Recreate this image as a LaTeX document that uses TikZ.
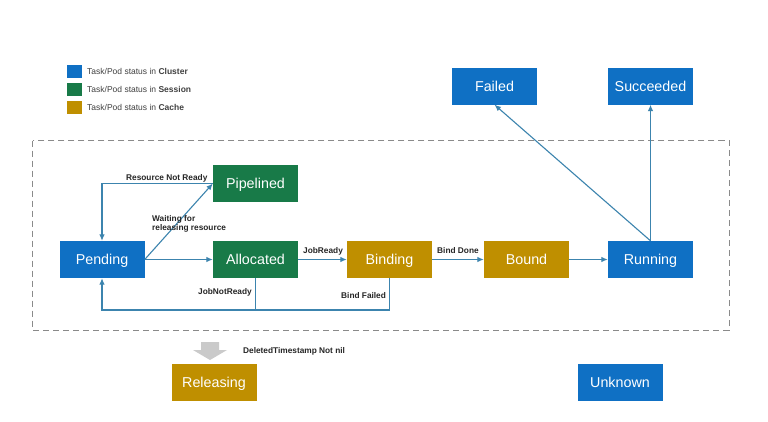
\documentclass[tikz,border=0pt]{standalone}
\usepackage{fontspec}
\setmainfont{Liberation Sans}
\usetikzlibrary{arrows.meta}
\definecolor{cblue}{HTML}{0F70C4}
\definecolor{cgreen}{HTML}{187A48}
\definecolor{cgold}{HTML}{BF8F00}
\definecolor{cline}{HTML}{3C84AE}
\definecolor{cdash}{HTML}{8A8A8A}
\definecolor{carrowgray}{HTML}{CACACA}
\tikzset{
  state/.style={rectangle, draw=none, minimum width=85bp, minimum height=37bp, inner sep=0pt,
    text=white, font=\fontsize{14.3bp}{16bp}\selectfont, text height=10.6bp, text depth=0pt},
  bluebox/.style={state, fill=cblue},
  greenbox/.style={state, fill=cgreen},
  goldbox/.style={state, fill=cgold},
  arr/.style={draw=cline, line width=1.1bp, -{Latex[length=6.5bp,width=5.5bp]}},
  conn/.style={draw=cline, line width=1.1bp},
  lbl/.style={font=\fontsize{8.3bp}{9.5bp}\selectfont\bfseries, text=black!85, inner sep=0pt, align=left},
  legtext/.style={font=\fontsize{8.5bp}{10bp}\selectfont, text=black!75, inner sep=0pt, anchor=west},
  legsq/.style={minimum width=15bp, minimum height=13bp, inner sep=0pt, draw=none}
}
\begin{document}
\begin{tikzpicture}[x=1bp,y=-1bp]
\useasboundingbox (0,0) rectangle (768,421);
\fill[white] (0,0) rectangle (768,421);

% legend
\node[legsq, fill=cblue] (lq1) at (74.5,71.5) {};
\node[legsq, fill=cgreen] (lq2) at (74.5,89.5) {};
\node[legsq, fill=cgold] (lq3) at (74.5,107.5) {};
\node[legtext] (lt1) at (87,71.5) {Task/Pod status in \textbf{Cluster}};
\node[legtext] (lt2) at (87,89.5) {Task/Pod status in \textbf{Session}};
\node[legtext] (lt3) at (87,107.5) {Task/Pod status in \textbf{Cache}};

% dashed frame
\draw[cdash, line width=1bp, dash pattern=on 6bp off 4bp] (32.5,140.5) rectangle (729,330);

% states
\node[bluebox] (pend) at (102,259.5) {Pending};
\node[greenbox] (pip) at (255.5,183.5) {Pipelined};
\node[greenbox] (alloc) at (255.5,259.5) {Allocated};
\node[goldbox] (bind) at (389.5,259.5) {Binding};
\node[goldbox] (bound) at (526.5,259.5) {Bound};
\node[bluebox] (run) at (650.5,259.5) {Running};
\node[bluebox] (fail) at (494.5,86) {Failed};
\node[bluebox] (succ) at (650.5,86) {Succeeded};
\node[goldbox] (rel) at (214,382) {Releasing};
\node[bluebox] (unk) at (620,382) {Unknown};

% connectors
\draw[arr] (pip.west) -| (pend.north);
\draw[arr] (pend.east) -- (pip.west);
\draw[arr] (pend.east) -- (alloc.west);
\draw[arr] (alloc.east) -- (bind.west);
\draw[arr] (bind.east) -- (bound.west);
\draw[arr] (bound.east) -- (run.west);
\draw[arr] (run.north) -- (fail.south);
\draw[arr] (run.north) -- (succ.south);
\coordinate (low) at (102,310);
\draw[arr] (bind.south) |- (low) -- (pend.south);
\draw[conn] (alloc.south) -- (alloc.south |- low);

% labels
\node[lbl, anchor=west] (l1) at (126,178) {Resource Not Ready};
\node[lbl, anchor=north west] (l2) at (152,215) {Waiting for\\releasing resource};
\node[lbl, anchor=west] (l3) at (303,251) {JobReady};
\node[lbl, anchor=west] (l4) at (437,251) {Bind Done};
\node[lbl, anchor=west] (l5) at (198,292) {JobNotReady};
\node[lbl, anchor=west] (l6) at (341,296) {Bind Failed};
\node[lbl, anchor=west] (l7) at (243,351) {DeletedTimestamp Not nil};

% gray block arrow
\fill[carrowgray] (201,342) -- (219,342) -- (219,350) -- (227,350) -- (210,360) -- (193,350) -- (201,350) -- cycle;
\end{tikzpicture}
\end{document}
